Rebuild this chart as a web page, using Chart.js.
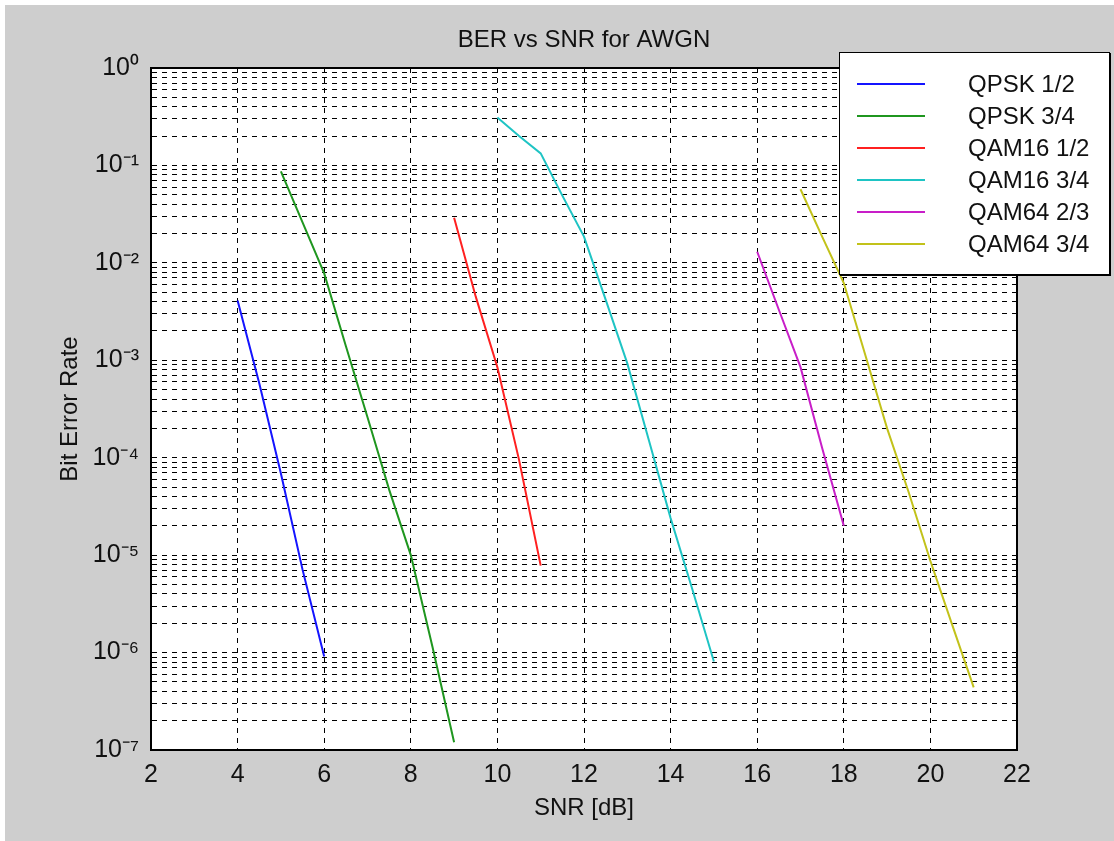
<!DOCTYPE html>
<html>
<head>
<meta charset="utf-8">
<script src="https://cdn.jsdelivr.net/npm/chart.js@4.4.1/dist/chart.umd.min.js"></script>
<style>
  html, body { margin: 0; padding: 0; background: #ffffff; width: 1114px; height: 841px; overflow: hidden; }
  #fig { position: absolute; left: 5px; top: 5px; width: 1109px; height: 836px; background: #cecece; }
  #c { position: absolute; left: 0; top: 0; }
  #legend {
    position: absolute; left: 834px; top: 47px; width: 271px; height: 223px;
    box-sizing: border-box; background: #ffffff; border: 1px solid #000;
    box-shadow: 1px 1px 0 #000; padding-top: 15px;
    font-family: "Liberation Sans", Arial, sans-serif; font-size: 24px; color: #111;
  }
  .row { position: relative; height: 32px; }
  .row .ln { position: absolute; left: 17px; top: 15px; width: 68px; height: 2px; }
  .row .tx { position: absolute; left: 128px; top: 0; line-height: 32px; white-space: nowrap; }
</style>
</head>
<body>
<div id="fig">
  <canvas id="c" width="1109" height="836"></canvas>
  <div id="legend"></div>
</div>
<script>
// ---- data (SNR in dB, BER) ----
const seriesNames = ['QPSK 1/2', 'QPSK 3/4', 'QAM16 1/2', 'QAM16 3/4', 'QAM64 2/3', 'QAM64 3/4'];
const seriesColors = ['#1414ff', '#1f961f', '#ff2020', '#1ec4c4', '#c81ec8', '#c2c21a'];

const snrQpsk12 = [4, 4.5, 5, 5.5, 6];
const berQpsk12 = [4.1e-3, 5.8e-4, 6.9e-5, 7.1e-6, 9.1e-7];

const snrQpsk34 = [5, 5.5, 6, 6.5, 7, 7.5, 8, 8.5, 9];
const berQpsk34 = [8.7e-2, 2.6e-2, 7.8e-3, 1.4e-3, 2.6e-4, 4.7e-5, 1.0e-5, 1.15e-6, 1.2e-7];

const snrQam16_12 = [9, 9.5, 10, 10.5, 11];
const berQam16_12 = [2.9e-2, 4.5e-3, 8.5e-4, 9.5e-5, 7.8e-6];

const snrQam16_34 = [10, 10.5, 11, 11.5, 12, 12.5, 13, 13.5, 14, 14.5, 15];
const berQam16_34 = [0.31, 0.20, 0.133, 4.9e-2, 1.86e-2, 4.2e-3, 9.3e-4, 1.5e-4, 2.4e-5, 4.5e-6, 8.1e-7];

const snrQam64_23 = [16, 16.5, 17, 17.5, 18];
const berQam64_23 = [1.3e-2, 3.3e-3, 8.5e-4, 1.26e-4, 2.0e-5];

const snrQam64_34 = [17, 17.5, 18, 18.5, 19, 19.5, 20, 20.5, 21];
const berQam64_34 = [5.7e-2, 1.86e-2, 6.2e-3, 1.12e-3, 2.0e-4, 4.4e-5, 8.7e-6, 1.95e-6, 4.4e-7];

// axis ticks
const xTicks = [2, 4, 6, 8, 10, 12, 14, 16, 18, 20, 22];
const yDecadeExponents = [-7, -6, -5, -4, -3, -2, -1, 0];
const yMinorMantissas = [1, 2, 3, 4, 5, 6, 7, 8, 9];

const seriesSnr = [snrQpsk12, snrQpsk34, snrQam16_12, snrQam16_34, snrQam64_23, snrQam64_34];
const seriesBer = [berQpsk12, berQpsk34, berQam16_12, berQam16_34, berQam64_23, berQam64_34];

const FONT = '"Liberation Sans", Arial, sans-serif';
const supMap = { '0': '\u2070', '1': '\u00B9', '2': '\u00B2', '3': '\u00B3', '4': '\u2074', '5': '\u2075', '6': '\u2076', '7': '\u2077', '8': '\u2078', '9': '\u2079', '-': '\u207B' };
const sup = s => String(s).split('').map(ch => supMap[ch] || ch).join('');

const yTickValues = [];
for (const e of yDecadeExponents) {
  if (e === 0) { yTickValues.push(1); continue; }
  for (const m of yMinorMantissas) yTickValues.push(Number((m * Math.pow(10, e)).toPrecision(6)));
}

const datasets = seriesNames.map((name, i) => ({
  label: name,
  data: seriesSnr[i].map((x, j) => ({ x: x, y: seriesBer[i][j] })),
  borderColor: seriesColors[i],
  backgroundColor: seriesColors[i],
  borderWidth: 2,
  pointRadius: 0,
  showLine: true,
  tension: 0
}));

const gridStyle = { color: '#000000', lineWidth: 1, drawTicks: false };
const borderStyle = { display: true, color: '#000000', width: 2, dash: [5, 5] };

// white plot-area background (axes colour)
const plotBackground = {
  id: 'plotBackground',
  beforeDraw(chart) {
    const { ctx, chartArea: a } = chart;
    ctx.save();
    ctx.fillStyle = '#ffffff';
    ctx.fillRect(a.left, a.top, a.right - a.left, a.bottom - a.top);
    ctx.restore();
  }
};

const chart = new Chart(document.getElementById('c'), {
  type: 'scatter',
  data: { datasets },
  plugins: [plotBackground],
  options: {
    responsive: false,
    animation: false,
    devicePixelRatio: 1,
    layout: { padding: { left: 0, right: 97, top: 0, bottom: 0 } },
    plugins: {
      legend: { display: false },
      tooltip: { enabled: false },
      title: {
        display: true,
        text: 'BER vs SNR for AWGN',
        fullSize: false,
        color: '#111',
        font: { family: FONT, size: 24, weight: 'normal', lineHeight: 1.2 },
        padding: { top: 21, bottom: 13.2 }
      }
    },
    scales: {
      x: {
        type: 'linear', position: 'bottom', min: 2, max: 22,
        afterBuildTicks: s => { s.ticks = xTicks.map(v => ({ value: v })); },
        afterFit: s => { s.height = 91; },
        grid: gridStyle,
        border: borderStyle,
        ticks: { color: '#111', padding: 10, autoSkip: false, maxRotation: 0,
                 font: { family: FONT, size: 25 } },
        title: { display: true, text: 'SNR [dB]', color: '#111',
                 font: { family: FONT, size: 24, lineHeight: 1.2 }, padding: { top: 0, bottom: 18 } }
      },
      y: {
        type: 'logarithmic', position: 'left', min: 1e-7, max: 1,
        afterBuildTicks: s => { s.ticks = yTickValues.map(v => ({ value: v })); },
        afterFit: s => { s.width = 146; },
        grid: gridStyle,
        border: borderStyle,
        ticks: {
          color: '#111', padding: 12, autoSkip: false,
          font: { family: FONT, size: 25 },
          callback: v => {
            const e = Math.log10(v);
            return Math.abs(e - Math.round(e)) < 1e-9 ? '10' + sup(Math.round(e)) : '';
          }
        },
        title: { display: true, text: 'Bit Error Rate', color: '#111',
                 font: { family: FONT, size: 24, lineHeight: 1.2 }, padding: { top: 51, bottom: 0 } }
      },
      xTop: {
        type: 'linear', position: 'top', min: 2, max: 22,
        afterFit: s => { s.height = 0; },
        grid: { display: false, drawTicks: false },
        ticks: { display: false },
        border: { display: true, color: '#000000', width: 2 }
      },
      yRight: {
        type: 'linear', position: 'right', min: 0, max: 1,
        afterFit: s => { s.width = 0; },
        grid: { display: false, drawTicks: false },
        ticks: { display: false },
        border: { display: true, color: '#000000', width: 2 }
      }
    }
  }
});

// HTML legend built from the chart's datasets
const legendEl = document.getElementById('legend');
chart.data.datasets.forEach(ds => {
  const row = document.createElement('div');
  row.className = 'row';
  const ln = document.createElement('div');
  ln.className = 'ln';
  ln.style.background = ds.borderColor;
  const tx = document.createElement('div');
  tx.className = 'tx';
  tx.textContent = ds.label;
  row.appendChild(ln);
  row.appendChild(tx);
  legendEl.appendChild(row);
});
</script>
</body>
</html>
